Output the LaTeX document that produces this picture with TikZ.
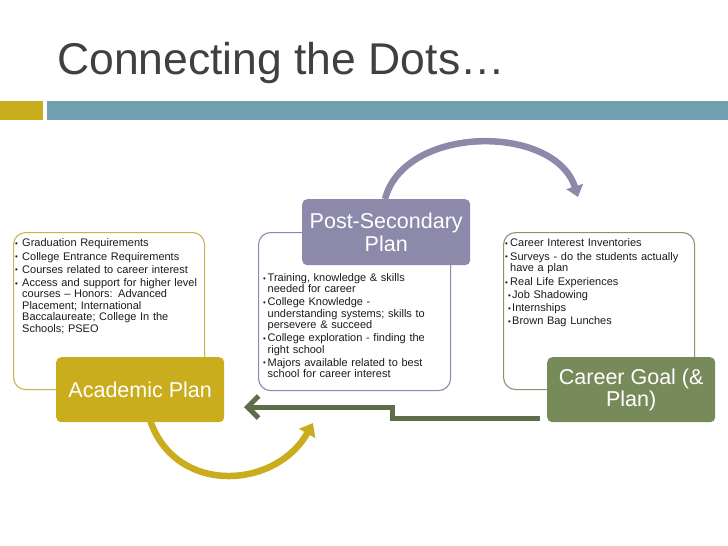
\documentclass[tikz,border=0pt]{standalone}
\usepackage{fontspec}
\setmainfont{Liberation Sans}
\usepackage{graphicx}
\usetikzlibrary{arrows.meta}
\definecolor{goldc}{HTML}{C9AD1C}
\definecolor{purpc}{HTML}{8C89AA}
\definecolor{sagec}{HTML}{778A5A}
\definecolor{sagedark}{HTML}{5E6E48}
\definecolor{tealc}{HTML}{6FA0B0}
\definecolor{titlegray}{HTML}{404040}
\definecolor{goldline}{HTML}{C8B44E}
\definecolor{purpline}{HTML}{8C89AA}
\definecolor{sageline}{HTML}{8A9470}
\definecolor{bodytext}{HTML}{1A1A1A}
\newcommand\bul{\raisebox{0.05ex}{\scalebox{0.72}{•}}}
\newcommand\bl[1]{\makebox[#1][l]{\bul}}
\tikzset{
  outbox/.style={draw, rounded corners=12pt, line width=1.1pt, anchor=north west, inner sep=0pt},
  bodytxt/.style={anchor=north west, inner sep=0pt, text width=215pt, align=left,
    text=bodytext, font=\fontsize{11}{11.4}\selectfont},
  headbox/.style={rounded corners=5pt, anchor=north west, inner sep=0pt, text=white,
    minimum width=168pt, minimum height=65pt, align=center,
    font=\fontsize{21.5}{22.5}\selectfont},
  arcarrow/.style={line width=6.5pt},
}
\begin{document}
\begin{tikzpicture}[x=1pt,y=-1pt]
\useasboundingbox (0,0) rectangle (728,546);
% title
\node[anchor=base west, inner sep=0pt, text=titlegray, font=\fontsize{44.5}{44.5}\selectfont] (title) at (57,74) {Connecting the Dots…};
\fill[goldc] (0,101) rectangle (43,120);
\fill[tealc] (47,101) rectangle (728,120);

% outline boxes
\node[outbox, draw=goldline, minimum width=191pt, minimum height=157pt] (leftbox) at (13,232) {};
\node[outbox, draw=purpline, minimum width=192pt, minimum height=158pt] (midbox) at (258,232) {};
\node[outbox, draw=sageline, minimum width=191pt, minimum height=157pt] (rightbox) at (503,232) {};

% body texts
\node[bodytxt] (lefttext) at (15,238.7) {%
\bl{7pt}Graduation Requirements\\[1.8pt]
\bl{7pt}College Entrance Requirements\\[1.8pt]
\bl{7pt}Courses related to career interest\\[1.8pt]
\bl{7pt}Access and support for higher level\\
\hspace*{7pt}courses – Honors: Advanced\\
\hspace*{7pt}Placement; International\\
\hspace*{7pt}Baccalaureate; College In the\\
\hspace*{7pt}Schools; PSEO};

\node[bodytxt] (midtext) at (263,273.3) {%
\bl{4.5pt}Training, knowledge \& skills\\
\hspace*{4.5pt}needed for career\\[1.6pt]
\bl{4.5pt}College Knowledge -\\
\hspace*{4.5pt}understanding systems; skills to\\
\hspace*{4.5pt}persevere \& succeed\\[1.6pt]
\bl{4.5pt}College exploration - finding the\\
\hspace*{4.5pt}right school\\[1.6pt]
\bl{4.5pt}Majors available related to best\\
\hspace*{4.5pt}school for career interest};

\node[bodytxt] (righttext) at (505,238.7) {%
\bl{5pt}Career Interest Inventories\\[1.8pt]
\bl{5pt}Surveys - do the students actually\\
\hspace*{5pt}have a plan\\[2.6pt]
\bl{5pt}Real Life Experiences\\[1.6pt]
\hspace*{3pt}\bl{4pt}Job Shadowing\\[1.8pt]
\hspace*{3pt}\bl{4pt}Internships\\[1.8pt]
\hspace*{3pt}\bl{4pt}Brown Bag Lunches};

% connectors
\coordinate (ps) at (385,199);
\coordinate (pe) at (578,197);
\draw[arcarrow, purpc, -{Triangle[length=11pt,width=17pt]}] (ps) .. controls (405,124) and (555,124) .. (pe);

\coordinate (as) at (150,420);
\coordinate (ae) at (313,423);
\draw[arcarrow, goldc, -{Triangle[length=12pt,width=18pt]}] (as) .. controls (175,495) and (275,490) .. (ae);

\coordinate (gs) at (540,418);
\coordinate (gbend) at (392,407);
\coordinate (ge) at (244,407);
\draw[line width=5pt, sagedark, line join=miter, -{Straight Barb[length=11pt,width=22pt]}] (gs) -| (gbend) -- (ge);

% header boxes
\node[headbox, fill=goldc] (acad) at (56,357) {Academic Plan};
\node[headbox, fill=purpc, minimum height=66pt] (post) at (302,199) {Post-Secondary\\Plan};
\node[headbox, fill=sagec] (career) at (547,357) {Career Goal (\&\\Plan)};
\end{tikzpicture}
\end{document}
